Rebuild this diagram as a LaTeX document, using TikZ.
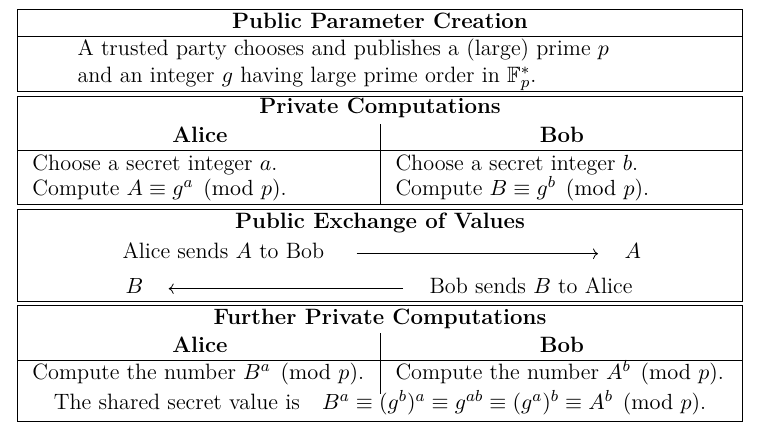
\documentclass[tikz,border=0pt]{standalone}
\usepackage{amsmath,amssymb}
\usetikzlibrary{arrows.meta}

\newcommand\boxfont{\fontsize{11.1pt}{13.3pt}\selectfont}

\tikzset{
  title/.style={anchor=base, font=\boxfont\bfseries},
  entry/.style={anchor=base west},
  sendarrow/.style={-{Computer Modern Rightarrow}, line width=0.4pt},
}

\begin{document}
\begin{tikzpicture}[x=0.5pt, y=-0.5pt, line width=0.5pt, every node/.style={inner sep=0pt, font=\boxfont}]
  \useasboundingbox (0,0) rectangle (776,435);
  % public parameters
  \draw (17,9.5) rectangle (742,91);
  \draw (17,36) -- (742,36);
  \node[title] (ppTitle) at (380,28) {Public Parameter Creation};
  \node[entry] (ppLineA) at (77,55) {A trusted party chooses and publishes a (large) prime $p$};
  \node[entry] (ppLineB) at (77,82) {and an integer $g$ having large prime order in $\mathbb{F}_p^*$.};
  % private computations
  \draw (17,96.5) rectangle (742,204);
  \draw (17,150) -- (742,150);
  \draw (380,124) -- (380,204);
  \node[title] (pcTitle) at (380,113) {Private Computations};
  \node[title] (pcAlice) at (200,142) {Alice};
  \node[title] (pcBob) at (562,142) {Bob};
  \node[entry] (aliceA) at (32,170) {Choose a secret integer $a$.};
  \node[entry] (aliceB) at (32,195) {Compute $A\equiv g^a \pmod{p}$.};
  \node[entry] (bobA) at (395,170) {Choose a secret integer $b$.};
  \node[entry] (bobB) at (395,195) {Compute $B\equiv g^b \pmod{p}$.};
  % public exchange
  \draw (17,209) rectangle (742,301);
  \node[title] (exTitle) at (380,228) {Public Exchange of Values};
  \node[entry] (sendA) at (122,258) {Alice sends $A$ to Bob};
  \node[entry] (valA) at (624,258) {$A$};
  \node[entry] (valB) at (125,293) {$B$};
  \node[entry] (sendB) at (429,293) {Bob sends $B$ to Alice};
  \draw[sendarrow, shorten <=16pt, shorten >=13pt] (sendA.mid east) -- (valA.mid west);
  \draw[sendarrow, shorten <=13pt, shorten >=12.5pt] (sendB.mid west) -- (valB.mid east);
  % further private computations
  \draw (17,305) rectangle (742,421);
  \draw (17,360) -- (742,360);
  \draw (380,333) -- (380,394);
  \node[title] (fpTitle) at (380,324) {Further Private Computations};
  \node[title] (fpAlice) at (200,352) {Alice};
  \node[title] (fpBob) at (562,352) {Bob};
  \node[entry] (aliceC) at (32,379) {Compute the number $B^a \pmod{p}$.};
  \node[entry] (bobC) at (395,379) {Compute the number $A^b \pmod{p}$.};
  \node[anchor=base] (shared) at (380,409)
    {The shared secret value is\quad $B^a\equiv(g^b)^a\equiv g^{ab}\equiv(g^a)^b\equiv A^b \pmod{p}$.};
\end{tikzpicture}
\end{document}
